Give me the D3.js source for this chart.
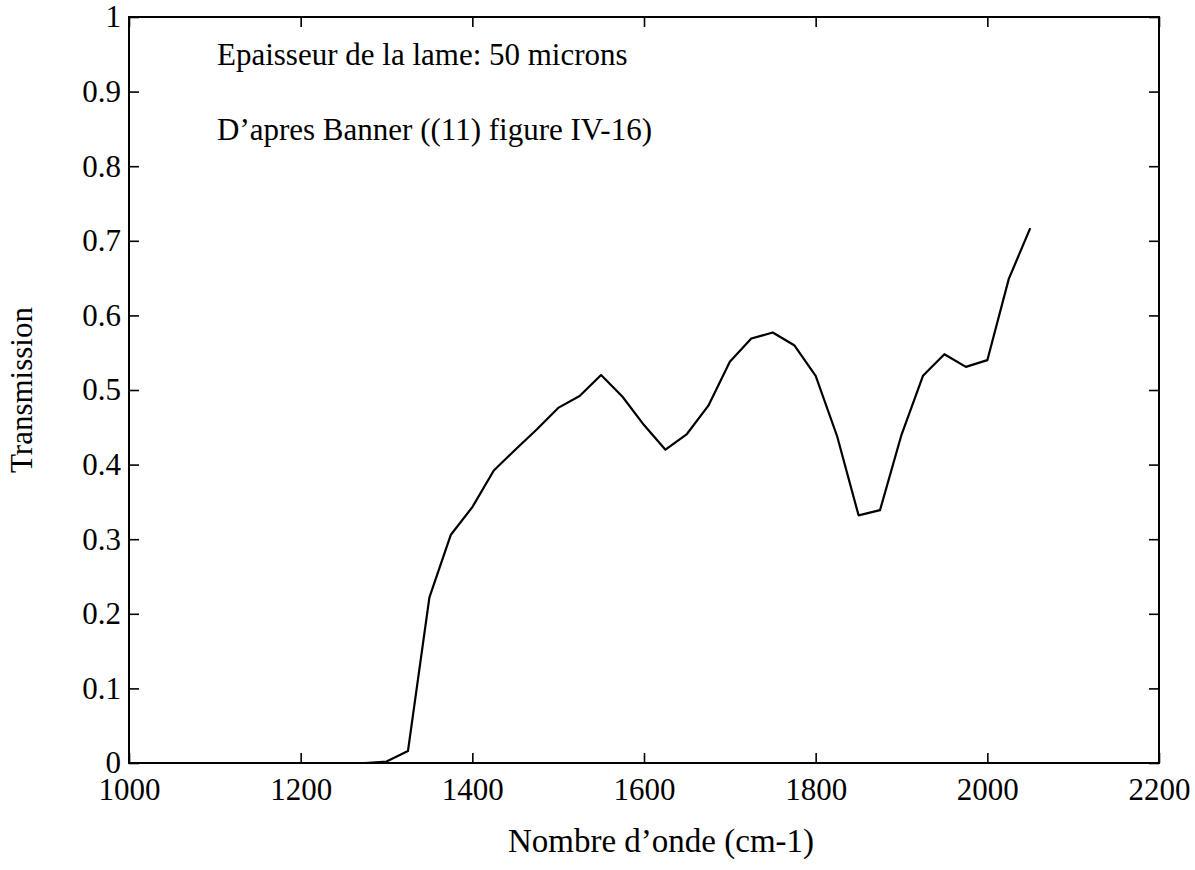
<!DOCTYPE html>
<html>
<head>
<meta charset="utf-8">
<script src="https://cdn.jsdelivr.net/npm/d3@7/dist/d3.min.js"></script>
<style>
  html, body { margin: 0; padding: 0; background: #fff; }
  svg { display: block; }
  text { font-family: "Liberation Serif", "Times New Roman", serif; fill: #000; }
</style>
</head>
<body>
<svg id="chart" width="1195" height="870"></svg>
<script>
// Transmission spectrum of a 50 micron plate
const wavenumbers = [1000, 1250, 1275, 1300, 1325, 1350, 1375, 1400, 1425, 1450, 1475, 1500, 1525, 1550,
  1575, 1600, 1625, 1650, 1675, 1700, 1725, 1750, 1775, 1800, 1825, 1850, 1875, 1900,
  1925, 1950, 1975, 2000, 2025, 2050];
const transmission = [0, 0, 0, 0.002, 0.016, 0.222, 0.306, 0.343, 0.392, 0.42, 0.447, 0.476, 0.492, 0.52,
  0.491, 0.453, 0.42, 0.441, 0.479, 0.538, 0.569, 0.577, 0.56, 0.519, 0.438, 0.332, 0.339, 0.44,
  0.519, 0.548, 0.531, 0.54, 0.649, 0.717];

const xTicks = [1000, 1200, 1400, 1600, 1800, 2000, 2200];
const yTicks = [0, 0.1, 0.2, 0.3, 0.4, 0.5, 0.6, 0.7, 0.8, 0.9, 1];
const notes = ["Epaisseur de la lame: 50 microns", "D\u2019apres Banner ((11) figure IV-16)"];
const xLabel = "Nombre d\u2019onde (cm-1)";
const yLabel = "Transmission";

const svg = d3.select("#chart");
const plotLeft = 129, plotRight = 1159, plotTop = 17, plotBottom = 763;
const fs = 31;

const x = d3.scaleLinear().domain([1000, 2200]).range([plotLeft, plotRight]);
const y = d3.scaleLinear().domain([0, 1]).range([plotBottom, plotTop]);

const fmt = d => d === 0 || d === 1 ? String(d) : d3.format(".1f")(d);

// axes: labels on bottom/left, inward ticks on all four sides
const tickLen = 10;
const bottomAxis = d3.axisBottom(x).tickValues(xTicks).tickSize(-tickLen).tickPadding(15).tickFormat(d3.format("d"));
const topAxis = d3.axisTop(x).tickValues(xTicks).tickSize(-tickLen).tickFormat("");
const leftAxis = d3.axisLeft(y).tickValues(yTicks).tickSize(-tickLen).tickPadding(8).tickFormat(fmt);
const rightAxis = d3.axisRight(y).tickValues(yTicks).tickSize(-tickLen).tickFormat("");

function style(g) {
  g.select(".domain").remove();
  g.selectAll(".tick line").attr("stroke", "#000").attr("stroke-width", 1.6);
  g.selectAll(".tick text").style("font-size", fs + "px").attr("fill", "#000");
}

svg.append("g").attr("transform", `translate(0,${plotBottom})`).call(bottomAxis).call(style)
  .selectAll(".tick text").attr("dy", "0.72em");
svg.append("g").attr("transform", `translate(0,${plotTop})`).call(topAxis).call(style);
svg.append("g").attr("transform", `translate(${plotLeft},0)`).call(leftAxis).call(style);
svg.append("g").attr("transform", `translate(${plotRight},0)`).call(rightAxis).call(style);

// frame
svg.append("rect")
  .attr("x", plotLeft).attr("y", plotTop)
  .attr("width", plotRight - plotLeft).attr("height", plotBottom - plotTop)
  .attr("fill", "none").attr("stroke", "#000").attr("stroke-width", 2);

// curve
const line = d3.line().x((d, i) => x(wavenumbers[i])).y(d => y(d));
svg.append("path")
  .datum(transmission)
  .attr("d", line)
  .attr("fill", "none")
  .attr("stroke", "#000")
  .attr("stroke-width", 2.2)
  .attr("stroke-linejoin", "round");

// annotations
svg.selectAll("text.note")
  .data(notes)
  .join("text")
  .attr("class", "note")
  .attr("x", 217)
  .attr("y", (d, i) => 65 + i * 75)
  .style("font-size", fs + "px")
  .text(d => d);

// axis titles
svg.append("text")
  .attr("x", 661)
  .attr("y", 852)
  .attr("text-anchor", "middle")
  .style("font-size", "33px")
  .text(xLabel);

svg.append("text")
  .attr("transform", `translate(32,${(plotTop + plotBottom) / 2}) rotate(-90)`)
  .attr("text-anchor", "middle")
  .style("font-size", fs + "px")
  .text(yLabel);
</script>
</body>
</html>
